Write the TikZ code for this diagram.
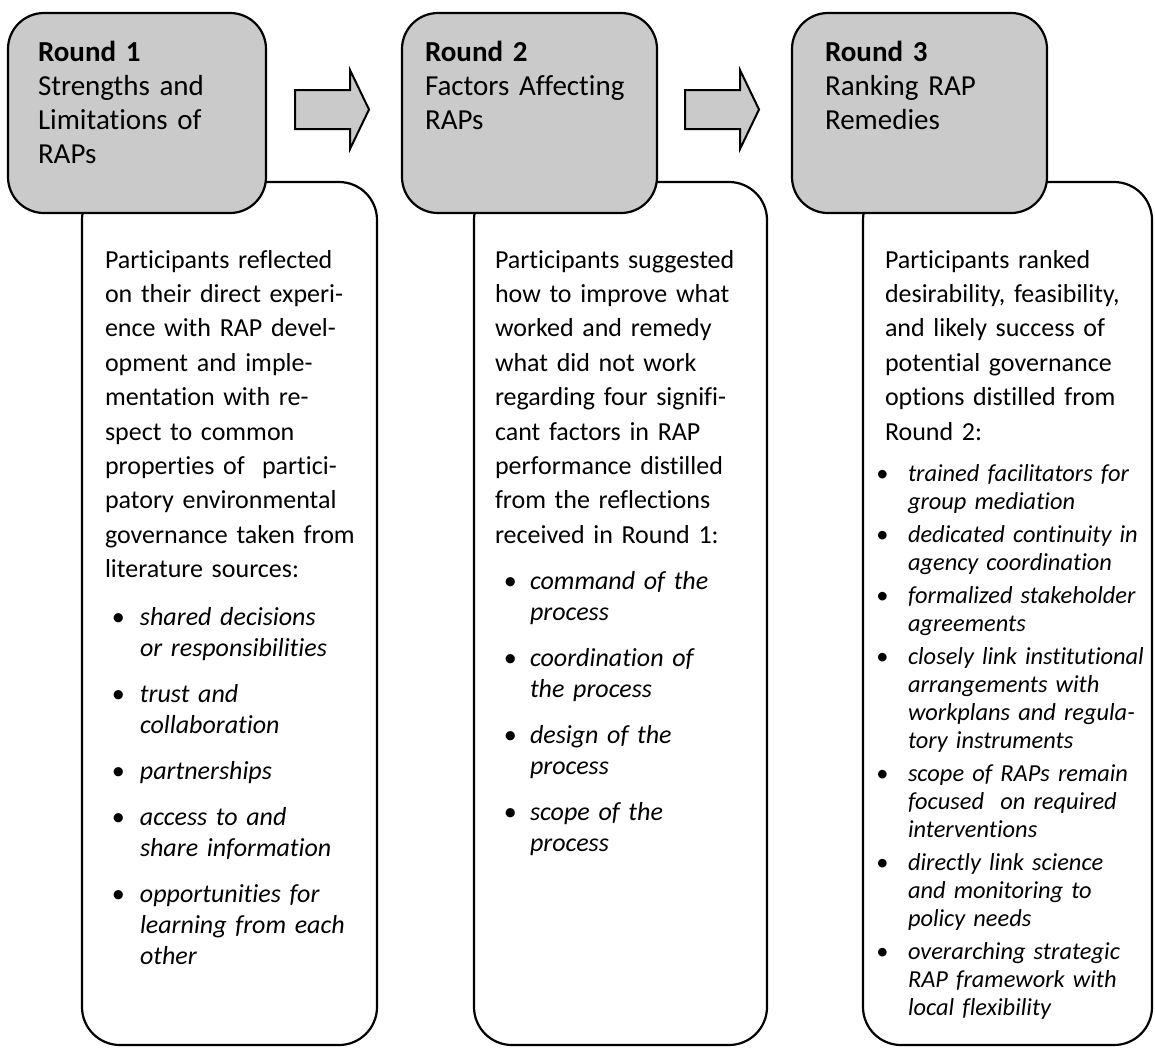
\documentclass[tikz,border=0pt]{standalone}
\usepackage{fontspec}
\setmainfont{Carlito}[Ligatures=NoCommon]
\definecolor{headgray}{RGB}{202,202,202}
\newcommand\rapbody{\fontsize{26}{34.4}\selectfont}
\newcommand\rapitems{\fontsize{26}{31}\selectfont\itshape}
\newcommand\rapitemsB{\fontsize{24.4}{28}\selectfont\itshape}
\newcommand\raphead{\fontsize{29}{34}\selectfont}
% bullet line and continuation line of a list item
\newcommand\bl[2]{\makebox[#1][l]{\textbullet}\mbox{#2}}
\newcommand\cl[2]{\hspace*{#1}\mbox{#2}}
\tikzset{
  panel/.style={draw=black, line width=2.2pt, fill=white, rounded corners=38pt,
    anchor=north west, outer sep=0pt, inner sep=0pt},
  headbox/.style={draw=black, line width=2.2pt, fill=headgray, rounded corners=36pt,
    anchor=north west, outer sep=0pt, inner sep=0pt,
    minimum height=200pt},
  blockarrow/.style={draw=black, line width=2pt, fill=headgray, line join=miter},
  txt/.style={anchor=base west, inner sep=0pt, outer sep=0pt, text width=330pt,
    align=left},
}
\begin{document}
\begin{tikzpicture}[x=1pt, y=-1pt]
\useasboundingbox (0,0) rectangle (1155,1047);

% white description panels
\node[panel, minimum width=295pt, minimum height=863pt] (p1) at (82,182) {};
\node[panel, minimum width=293pt, minimum height=863pt] (p2) at (474,182) {};
\node[panel, minimum width=289pt, minimum height=863pt] (p3) at (863,182) {};

% grey round headers
\node[headbox, minimum width=258pt] (h1) at (8,13) {};
\node[headbox, minimum width=255pt] (h2) at (402,13) {};
\node[headbox, minimum width=255pt] (h3) at (792,13) {};

% block arrows between the headers
\draw[blockarrow] (295,90) -- (350,90) -- (350,70) -- (369,109.5) -- (350,149)
  -- (350,129) -- (295,129) -- cycle;
\draw[blockarrow] (685,90) -- (740,90) -- (740,70) -- (759,109.5) -- (740,149)
  -- (740,129) -- (685,129) -- cycle;

% header texts
\node[txt, font=\raphead] (r1) at (38,61)
  {\textbf{Round 1}\\Strengths and\\Limitations of\\RAPs};
\node[txt, font=\raphead] (r2) at (425,61)
  {\textbf{Round 2}\\Factors Affecting\\RAPs};
\node[txt, font=\raphead] (r3) at (825,61)
  {\textbf{Round 3}\\Ranking RAP\\Remedies};

% round 1
\node[txt, font=\rapbody] (d1) at (105,268)
  {Participants reflected\\on their direct experi-\\ence with RAP devel-\\opment and imple-\\mentation with re-\\spect to common\\properties of~~partici-\\patory environmental\\governance taken from\\literature sources:};
\node[txt, font=\rapitems] (l1) at (111.5,625)
  {\bl{28.5pt}{shared decisions}\\\cl{28.5pt}{or responsibilities}\\[15pt]
   \bl{28.5pt}{trust and}\\\cl{28.5pt}{collaboration}\\[15pt]
   \bl{28.5pt}{partnerships}\\[15pt]
   \bl{28.5pt}{access to and}\\\cl{28.5pt}{share information}\\[15pt]
   \bl{28.5pt}{opportunities for}\\\cl{28.5pt}{learning from each}\\\cl{28.5pt}{other}};

% round 2
\node[txt, font=\rapbody] (d2) at (495,268)
  {Participants suggested\\how to improve what\\worked and remedy\\what did not work\\regarding four signifi-\\cant factors in RAP\\performance distilled\\from the reflections\\received in Round 1:};
\node[txt, font=\rapitems] (l2) at (503.5,589)
  {\bl{26.5pt}{command of the}\\\cl{26.5pt}{process}\\[15pt]
   \bl{26.5pt}{coordination of}\\\cl{26.5pt}{the process}\\[15pt]
   \bl{26.5pt}{design of the}\\\cl{26.5pt}{process}\\[15pt]
   \bl{26.5pt}{scope of the}\\\cl{26.5pt}{process}};

% round 3
\node[txt, font=\rapbody] (d3) at (885,268)
  {Participants ranked\\desirability, feasibility,\\and likely success of\\potential governance\\options distilled from\\Round 2:};
\node[txt, font=\rapitemsB] (l3) at (876,481)
  {\bl{32pt}{trained facilitators for}\\\cl{32pt}{group mediation}\\[5pt]
   \bl{32pt}{dedicated continuity in}\\\cl{32pt}{agency coordination}\\[5pt]
   \bl{32pt}{formalized stakeholder}\\\cl{32pt}{agreements}\\[5pt]
   \bl{32pt}{closely link institutional}\\\cl{32pt}{arrangements with}\\\cl{32pt}{workplans and regula-}\\\cl{32pt}{tory instruments}\\[5pt]
   \bl{32pt}{scope of RAPs remain}\\\cl{32pt}{focused~~on required}\\\cl{32pt}{interventions}\\[5pt]
   \bl{32pt}{directly link science}\\\cl{32pt}{and monitoring to}\\\cl{32pt}{policy needs}\\[5pt]
   \bl{32pt}{overarching strategic}\\\cl{32pt}{RAP framework with}\\\cl{32pt}{local flexibility}};
\end{tikzpicture}
\end{document}
